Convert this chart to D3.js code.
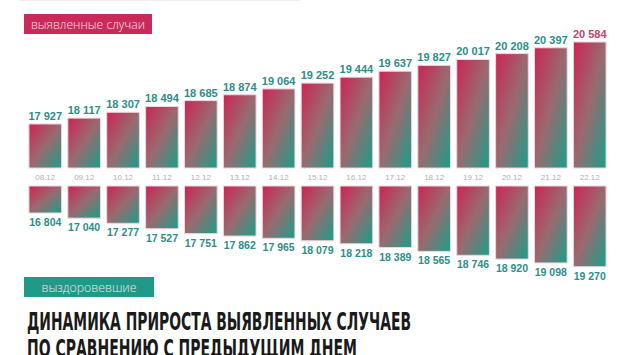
<!DOCTYPE html>
<html>
<head>
<meta charset="utf-8">
<script src="https://cdn.jsdelivr.net/npm/d3@7"></script>
<style>
  body { margin: 0; background: #fff; }
  #chart { width: 630px; height: 355px; }
</style>
</head>
<body>
<div id="chart"></div>
<script>
var dates = ["08.12","09.12","10.12","11.12","12.12","13.12","14.12","15.12","16.12","17.12","18.12","19.12","20.12","21.12","22.12"];
var cases = [17927,18117,18307,18494,18685,18874,19064,19252,19444,19637,19827,20017,20208,20397,20584];
var recovered = [16804,17040,17277,17527,17751,17862,17965,18079,18218,18389,18565,18746,18920,19098,19270];

var width = 630, height = 355;
var pink = "#c92a5a", teal = "#1f9a88";
var fmt = function(v) { return d3.format(",")(v).replace(",", " "); };

var svg = d3.select("#chart").append("svg")
    .attr("width", width)
    .attr("height", height);

// diagonal gradient pink -> teal, used by every bar
var grad = svg.append("defs").append("linearGradient")
    .attr("id", "barGrad")
    .attr("x1", 0).attr("y1", 0).attr("x2", 1).attr("y2", 1);
grad.append("stop").attr("offset", "0%").attr("stop-color", "#cc2455");
grad.append("stop").attr("offset", "50%").attr("stop-color", "#9a6a70");
grad.append("stop").attr("offset", "100%").attr("stop-color", "#17a08a");

// faint line at the very top
svg.append("line")
    .attr("x1", 20).attr("x2", 300).attr("y1", 0.5).attr("y2", 0.5)
    .attr("stroke", "#eee");

var xScale = d3.scaleBand()
    .domain(dates)
    .range([27, 608])
    .paddingInner(0.16)
    .paddingOuter(0.05);

var yTop = d3.scaleLinear()
    .domain([16500, 20584])
    .range([168, 42]);

var yBot = d3.scaleLinear()
    .domain([15564, 19270])
    .range([186, 266.7]);

// top bars: detected cases
svg.selectAll(".caseBar")
    .data(cases)
    .enter()
    .append("rect")
        .attr("class", "caseBar")
        .attr("x", function(d, i) { return xScale(dates[i]); })
        .attr("y", function(d) { return yTop(d); })
        .attr("width", xScale.bandwidth())
        .attr("height", function(d) { return yTop(16500) - yTop(d); })
        .attr("fill", "url(#barGrad)")
        .attr("stroke", "#f0d6de")
        .attr("stroke-width", 1);

svg.selectAll(".caseLabel")
    .data(cases)
    .enter()
    .append("text")
        .attr("class", "caseLabel")
        .attr("x", function(d, i) { return xScale(dates[i]) + xScale.bandwidth()/2; })
        .attr("y", function(d) { return yTop(d) - 4; })
        .attr("text-anchor", "middle")
        .attr("font-family", "'Liberation Sans', Arial, sans-serif")
        .attr("font-weight", "bold")
        .attr("font-size", "11px")
        .attr("fill", function(d, i) { return i == cases.length - 1 ? "#c8416c" : "#2d8e88"; })
        .text(function(d) { return fmt(d); });

// date labels between the two rows
svg.selectAll(".dateLabel")
    .data(dates)
    .enter()
    .append("text")
        .attr("class", "dateLabel")
        .attr("x", function(d) { return xScale(d) + xScale.bandwidth()/2; })
        .attr("y", 180)
        .attr("text-anchor", "middle")
        .attr("font-family", "Arial, sans-serif")
        .attr("font-size", "8px")
        .attr("fill", "#b0b0b0")
        .text(function(d) { return d; });

// bottom bars: recovered, hanging down
svg.selectAll(".recBar")
    .data(recovered)
    .enter()
    .append("rect")
        .attr("class", "recBar")
        .attr("x", function(d, i) { return xScale(dates[i]); })
        .attr("y", yBot.range()[0])
        .attr("width", xScale.bandwidth())
        .attr("height", function(d) { return yBot(d) - yBot.range()[0]; })
        .attr("fill", "url(#barGrad)")
        .attr("stroke", "#f0d6de")
        .attr("stroke-width", 1);

svg.selectAll(".recLabel")
    .data(recovered)
    .enter()
    .append("text")
        .attr("class", "recLabel")
        .attr("x", function(d, i) { return xScale(dates[i]) + xScale.bandwidth()/2; })
        .attr("y", function(d) { return yBot(d) + 13; })
        .attr("text-anchor", "middle")
        .attr("font-family", "'Liberation Sans', Arial, sans-serif")
        .attr("font-weight", "bold")
        .attr("font-size", "10.5px")
        .attr("fill", "#2d8e88")
        .text(function(d) { return fmt(d); });

// legend boxes
var legends = [
    {label: "выявленные случаи", color: pink, y: 14, w: 128, tw: 114},
    {label: "выздоровевшие", color: teal, y: 277, w: 130, tw: 95}
];
legends.forEach(function(l) {
    svg.append("rect")
        .attr("x", 24).attr("y", l.y)
        .attr("width", l.w).attr("height", 20)
        .attr("fill", l.color);
    svg.append("text")
        .attr("x", 24 + (l.w - l.tw)/2).attr("y", l.y + 14.5)
        .attr("font-family", "'Open Sans', sans-serif")
        .attr("font-weight", 300)
        .attr("font-size", "13px")
        .attr("fill", "#f6e2ea")
        .attr("textLength", l.tw)
        .attr("lengthAdjust", "spacingAndGlyphs")
        .text(l.label);
});

// title, condensed
var titleLines = ["ДИНАМИКА ПРИРОСТА ВЫЯВЛЕННЫХ СЛУЧАЕВ", "ПО СРАВНЕНИЮ С ПРЕДЫДУЩИМ ДНЕМ"];
var titleWidths = [384, 330];
titleLines.forEach(function(t, i) {
    svg.append("text")
        .attr("x", 27)
        .attr("y", 330 + i * 27)
        .attr("font-family", "'DejaVu Sans Condensed', 'DejaVu Sans', sans-serif")
        .attr("font-weight", "bold")
        .attr("font-size", "24px")
        .attr("fill", "#1a1a1a")
        .attr("textLength", titleWidths[i])
        .attr("lengthAdjust", "spacingAndGlyphs")
        .text(t);
});
</script>
</body>
</html>
